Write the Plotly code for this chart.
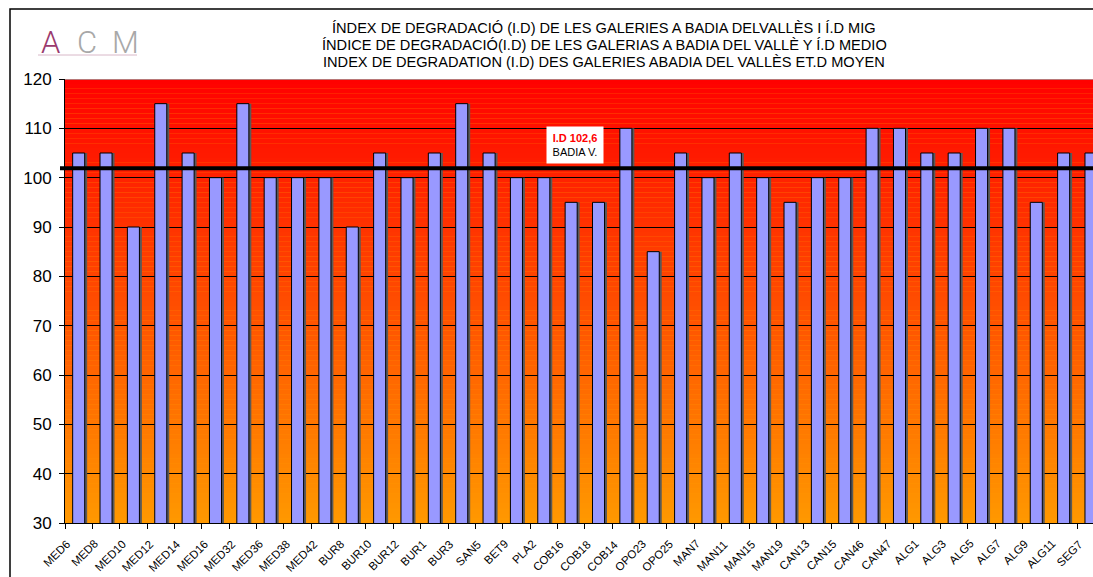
import plotly.graph_objects as go

categories = ["MED6", "MED8", "MED10", "MED12", "MED14", "MED16", "MED32", "MED36",
              "MED38", "MED42", "BUR8", "BUR10", "BUR12", "BUR1", "BUR3", "SAN5",
              "BET9", "PLA2", "COB16", "COB18", "COB14", "OPO23", "OPO25", "MAN7",
              "MAN11", "MAN15", "MAN19", "CAN13", "CAN15", "CAN46", "CAN47", "ALG1",
              "ALG3", "ALG5", "ALG7", "ALG9", "ALG11", "SEG7"]
values = [105, 105, 90, 115, 105, 100, 115, 100,
          100, 100, 90, 105, 100, 105, 115, 105,
          100, 100, 95, 95, 110, 85, 105, 100,
          105, 100, 95, 100, 100, 110, 110, 105,
          105, 110, 110, 95, 105, 105]
average_value = 102.6
average_line = 101.9  # where the reference draws the line
average_label = "BADIA V."
y_ticks = list(range(30, 121, 10))
title_lines = [
    "ÍNDEX DE DEGRADACIÓ (I.D) DE LES GALERIES A BADIA DELVALLÈS I Í.D MIG",
    "ÍNDICE DE DEGRADACIÓ(I.D) DE LES GALERIAS A BADIA DEL VALLÈ Y Í.D MEDIO",
    "INDEX DE DEGRADATION (I.D) DES GALERIES ABADIA DEL VALLÈS ET.D MOYEN",
]

W, H = 1093, 577
L, T, B, R = 65, 79, 54, 0
plot_w = W - L - R
plot_h = H - T - B
cat_w = 27.36
x_end = -0.5 + plot_w / cat_w
FONT = "Liberation Sans, Arial, sans-serif"
x_pos = list(range(len(categories)))


def px(xp):
    return (xp - L) / plot_w


def py(yp):
    return (H - B - yp) / plot_h


fig = go.Figure()
bar_w = 0.44
fig.add_trace(go.Bar(x=x_pos, y=values, width=bar_w, offset=-bar_w / 2 + 0.09,
                     marker=dict(color="#5a5a5a", line=dict(width=0)),
                     hoverinfo="skip", showlegend=False))
fig.add_trace(go.Bar(x=x_pos, y=values, width=bar_w, offset=-bar_w / 2,
                     customdata=categories,
                     hovertemplate="%{customdata}: %{y}<extra></extra>",
                     marker=dict(color="#9999FF", line=dict(color="#000000", width=1)),
                     showlegend=False))

shapes = []
# gradient background (red at top -> orange at bottom)
lo, hi = y_ticks[0], y_ticks[-1]
steps = 90
for i in range(steps):
    y0 = lo + (hi - lo) * i / steps
    y1 = lo + (hi - lo) * (i + 1) / steps
    f = (hi - (y0 + y1) / 2) / (hi - lo)
    g = int(round(153 * f))
    shapes.append(dict(type="rect", xref="paper", yref="y", x0=0, x1=1, y0=y0, y1=y1,
                       fillcolor=f"rgb(255,{g},0)", line=dict(width=0), layer="below"))
# top border of plot area
shapes.append(dict(type="line", xref="paper", yref="y", x0=0, x1=1, y0=hi, y1=hi,
                   line=dict(color="#a0a0a0", width=1.5), layer="above"))
# average line
shapes.append(dict(type="line", xref="paper", yref="y", x0=px(60), x1=1,
                   y0=average_line, y1=average_line,
                   line=dict(color="#000000", width=4), layer="above"))
# outer frame
shapes.append(dict(type="path", xref="paper", yref="paper",
                   path=f"M {px(10)},{py(H + 5)} L {px(10)},{py(9)} L {px(W + 5)},{py(9)}",
                   line=dict(color="#000000", width=1.5)))
# logo underline
shapes.append(dict(type="line", xref="paper", yref="paper", x0=px(38), x1=px(137),
                   y0=py(55), y1=py(55), line=dict(color="#d8b8c8", width=1)))

annotations = []
for i, line in enumerate(title_lines):
    annotations.append(dict(text=line, xref="paper", yref="paper", x=px(604),
                            y=py(28 + 17 * i), xanchor="center", yanchor="middle",
                            showarrow=False, font=dict(family=FONT, size=14.6, color="#000000")))
# logo
for ch, xc, col in [("A", 50, "#9b3a6e"), ("C", 87, "#a8a8a8"), ("M", 125, "#a8a8a8")]:
    annotations.append(dict(text=ch, xref="paper", yref="paper", x=px(xc), y=py(42),
                            xanchor="center", yanchor="middle", showarrow=False,
                            font=dict(family="Roboto, DejaVu Sans, sans-serif", size=31,
                                      color=col, weight=300)))
label_val = "I.D " + f"{average_value:.1f}".replace(".", ",")
annotations.append(dict(
    text=f"<span style='color:#ff0000'><b>{label_val}</b></span><br>{average_label}",
    xref="paper", yref="paper", x=px(575), y=py(145), xanchor="center", yanchor="middle",
    showarrow=False, bgcolor="#ffffff", width=52, height=32, borderpad=2,
    font=dict(family=FONT, size=11, color="#000000")))
# rotated category labels
for xi, cat in zip(x_pos, categories):
    annotations.append(dict(text=cat, xref="x", yref="paper", x=xi, y=py(535),
                            xanchor="right", yanchor="top", xshift=-3, textangle=-45,
                            showarrow=False, font=dict(family=FONT, size=11.5, color="#000000")))

fig.update_layout(
    width=W, height=H,
    margin=dict(l=L, r=R, t=T, b=B),
    paper_bgcolor="#ffffff", plot_bgcolor="#ff9900",
    barmode="overlay",
    shapes=shapes, annotations=annotations,
    font=dict(family=FONT, color="#000000"),
    xaxis=dict(range=[-0.5, x_end], tickmode="array", tickvals=x_pos,
               ticktext=categories, ticks="", showticklabels=False,
               minor=dict(tick0=0.5, dtick=1, ticks="outside", ticklen=5,
                          tickcolor="#000000", showgrid=False),
               showline=True, linecolor="#000000", linewidth=1, showgrid=False,
               zeroline=False, fixedrange=True),
    yaxis=dict(range=[lo, hi], tickvals=y_ticks, ticks="outside", ticklen=5,
               tickcolor="#000000", showline=True, linecolor="#000000", linewidth=1,
               showgrid=True, gridcolor="#000000", gridwidth=1, zeroline=False,
               tickfont=dict(family=FONT, size=17, color="#000000"),
               ticklabelstandoff=4, fixedrange=True),
)

fig.write_html("out.html", config={"displayModeBar": False},
               post_script="document.body.style.margin='0px';document.body.style.padding='0px';")
